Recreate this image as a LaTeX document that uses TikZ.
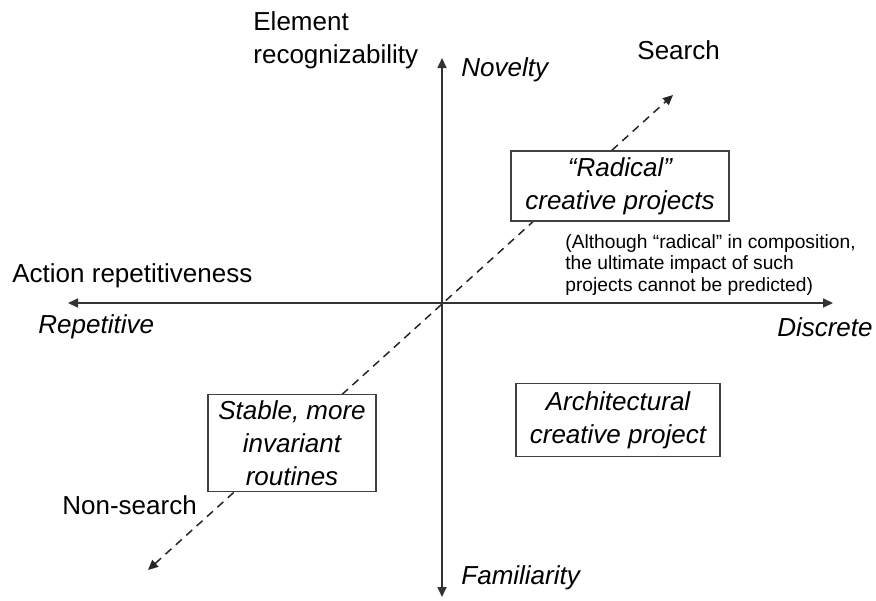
\documentclass[tikz,border=0pt]{standalone}
\usepackage{fontspec}
\setmainfont{Liberation Sans}
\usetikzlibrary{arrows.meta}

\begin{document}
\begin{tikzpicture}
    [x=0.5pt, y=-0.5pt,
     every node/.style={font=\fontsize{13}{16.5}\selectfont, inner sep=0pt},
     axislabel/.style={font=\fontsize{13}{16.5}\selectfont\itshape},
     notetext/.style={font=\fontsize{9.6}{10.8}\selectfont, align=left},
     quadbox/.style={draw=black!75, fill=white, line width=0.75pt, align=center,
                     font=\fontsize{13}{16.5}\selectfont\itshape},
     axis/.style={draw=black!80, line width=0.8pt,
                  {Triangle[length=5pt,width=4.5pt]}-{Triangle[length=5pt,width=4.5pt]}},
     searchline/.style={draw=black!85, line width=0.75pt, dash pattern=on 4pt off 3pt,
                  {Triangle[length=5pt,width=4.5pt]}-{Triangle[length=5pt,width=4.5pt]}}]

    \useasboundingbox (0,0) rectangle (876,600);

    \coordinate (west) at (68,303);
    \coordinate (east) at (833,303);
    \coordinate (north) at (442,58);
    \coordinate (south) at (442,597);
    \coordinate (nonsearch end) at (148,570);
    \coordinate (search end) at (673,95);

    \draw[axis] (west) -- (east);
    \draw[axis] (south) -- (north);
    \draw[searchline] (nonsearch end) -- (search end);

    \node[anchor=west, align=left] (elemrec) at (253,40) {Element\\recognizability};
    \node[axislabel, anchor=west] (novelty) at (461,70) {Novelty};
    \node[anchor=west] (search) at (637,50) {Search};
    \node[quadbox, minimum width=109pt, minimum height=35pt] (radical) at (620,186)
      {“Radical”\\creative projects};
    \node[notetext, anchor=north west] (note) at (565,234)
      {(Although “radical” in composition,\\the ultimate impact of such\\projects cannot be predicted)};
    \node[anchor=west] (action) at (12,276) {Action repetitiveness};
    \node[axislabel, anchor=west] (repetitive) at (38,327) {Repetitive};
    \node[axislabel, anchor=east] (discrete) at (873,327) {Discrete};
    \node[quadbox, minimum width=102pt, minimum height=36.5pt] (architectural) at (618,420)
      {Architectural\\creative project};
    \node[quadbox, minimum width=84pt, minimum height=48.5pt] (stable) at (292,443)
      {Stable, more\\invariant\\routines};
    \node[anchor=west] (nonsearch) at (62,505) {Non-search};
    \node[axislabel, anchor=west] (familiarity) at (461,578) {Familiarity};
\end{tikzpicture}
\end{document}
